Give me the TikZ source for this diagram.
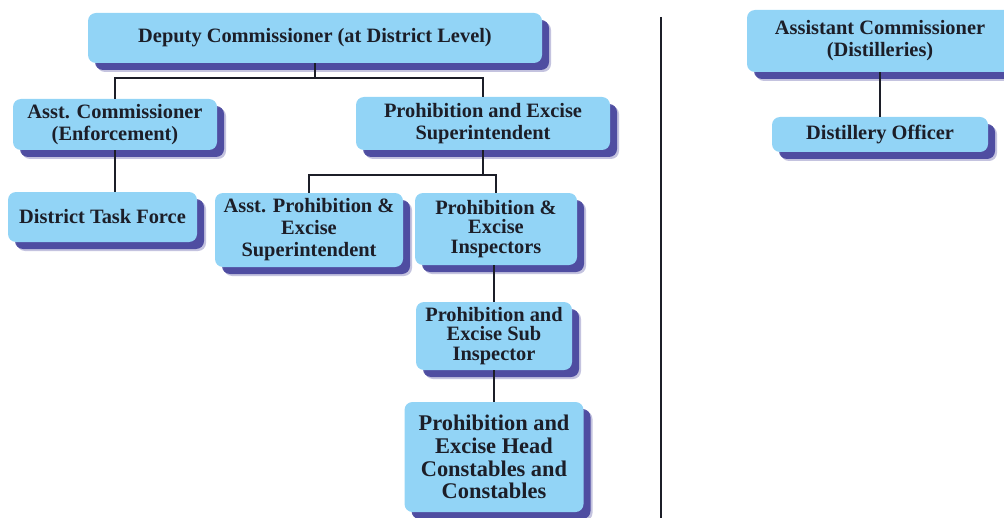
\documentclass[tikz,border=0pt]{standalone}
\usepackage{fontspec}
\setmainfont{Liberation Serif}
\usetikzlibrary{positioning,shadows}
\definecolor{boxblue}{RGB}{146,212,246}
\definecolor{shadeblue}{RGB}{58,56,150}
\definecolor{inkgray}{RGB}{28,30,40}

\begin{document}
\begin{tikzpicture}[x=0.5pt, y=-0.5pt, font=\bfseries\fontsize{10.2}{11}\selectfont]
	\tikzset{%
		post/.style={rectangle, rounded corners=4pt, fill=boxblue, text=inkgray, align=center, inner sep=0pt,
			general shadow={shadow xshift=4.5pt, shadow yshift=-4.5pt, fill=shadeblue, opacity=.3},
			general shadow={shadow xshift=3.5pt, shadow yshift=-3.5pt, fill=shadeblue, opacity=.85}},
		tight/.style={font=\bfseries\fontsize{10.2}{9.6}\selectfont},
		link/.style={draw=inkgray, line width=1pt}
	}
	\useasboundingbox (0,0) rectangle (1004,518);
	% district side
	\node[post, minimum width=227pt, minimum height=25pt] (dc) at (315,38) {Deputy Commissioner (at District Level)};
	\node[post, minimum width=102pt, minimum height=25.5pt] (acE) at (115,124.5) {Asst. Commissioner\\(Enforcement)};
	\node[post, minimum width=127pt, minimum height=26.5pt] (pes) at (483,123.5) {Prohibition and Excise\\Superintendent};
	\node[post, minimum width=94.5pt, minimum height=25pt] (dtf) at (102.5,217) {District Task Force};
	\node[post, minimum width=94pt, minimum height=37pt] (apes) at (309,230) {Asst. Prohibition \&\\Excise\\Superintendent};
	\node[post, tight, minimum width=81pt, minimum height=36pt] (pei) at (496,229) {Prohibition \&\\Excise\\Inspectors};
	\node[post, tight, minimum width=78pt, minimum height=34pt] (psi) at (494,336) {Prohibition and\\Excise Sub\\Inspector};
	\node[post, minimum width=89.5pt, minimum height=55pt, font=\bfseries\fontsize{11.2}{11.4}\selectfont] (hc) at (494,457) {Prohibition and\\Excise Head\\Constables and\\Constables};
	% distillery side
	\node[post, minimum width=133pt, minimum height=31pt] (acD) at (880,41) {Assistant Commissioner\\(Distilleries)};
	\node[post, minimum width=108pt, minimum height=17.5pt] (dO) at (880,134.5) {Distillery Officer};

	\draw[link] (dc.south) -- ++(0,15) -| (acE.north);
	\draw[link] (dc.south) -- ++(0,15) -| (pes.north);
	\draw[link] (acE.south) -- (acE.south |- dtf.north);
	\draw[link] (pes.south) -- ++(0,25) -| (apes.north);
	\draw[link] (pes.south) -- ++(0,25) -| (pei.north);
	\draw[link] (psi.north |- pei.south) -- (psi.north);
	\draw[link] (psi.south) -- (hc.north);
	\draw[link] (acD.south) -- (dO.north);

	% split between the two wings
	\coordinate (divtop) at (661,17);
	\coordinate (divbot) at (661,518);
	\draw[link, line width=1.2pt] (divtop) -- (divbot);
\end{tikzpicture}
\end{document}
